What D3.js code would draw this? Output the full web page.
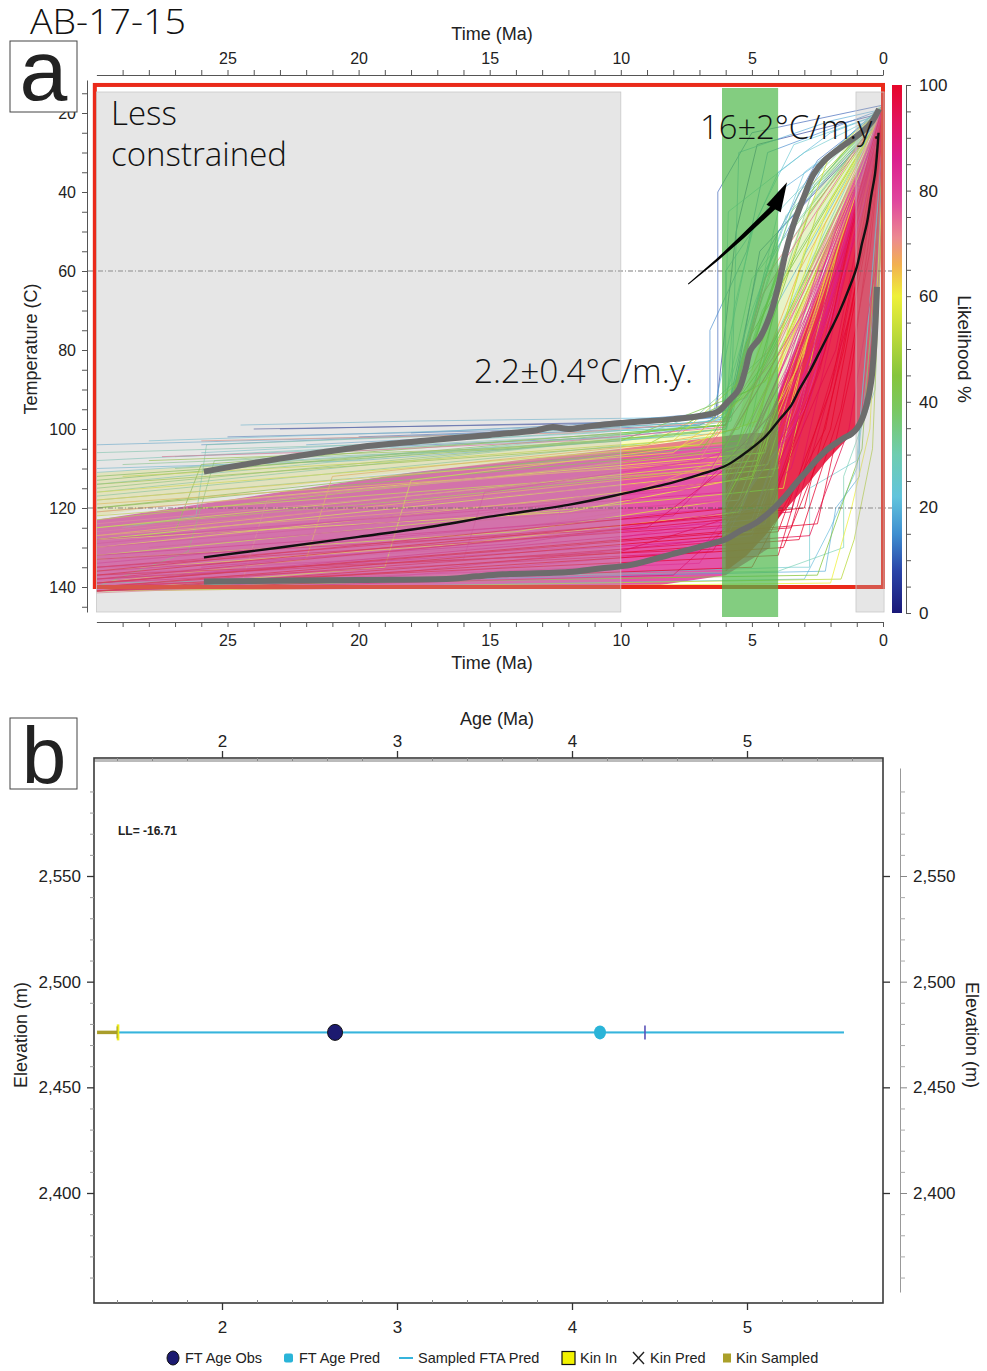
<!DOCTYPE html>
<html><head><meta charset="utf-8">
<script src="https://cdn.jsdelivr.net/npm/d3@7/dist/d3.min.js"></script>
<style>
html,body{margin:0;padding:0;background:#fff;}
svg{display:block;}
text{font-family:"Liberation Sans",Arial,Helvetica,sans-serif;fill:#222;}
.light{font-family:"Open Sans","Lato",sans-serif;font-weight:300;fill:#111;}
</style></head><body>
<svg id="chart" width="987" height="1371"></svg>
<script>
// ================= DATA =================
// Panel a : time-temperature history
const timeTicks = [25, 20, 15, 10, 5, 0];
const tempTicks = [20, 40, 60, 80, 100, 120, 140];
const likeTicks = [0, 20, 40, 60, 80, 100];
const refTemps = [60, 120];
const lessConstrainedWindow = [30, 10];
const recentWindow = [1.03, 0];
const constraintWindow = [6.14, 4.0];

// likelihood colour bar (likelihood %, colour)
const likeStops  = [0, 8, 15, 22, 30, 38, 45, 52, 60, 66, 71, 78, 86, 93, 100];
const likeColors = ["#1a1878","#2a45a8","#3f8fd0","#62c4dc","#6fcdb0","#79c866","#86c53c","#b8d83a","#eef03a","#f2b050","#ec8a90","#e0489e","#dc1f8e","#e2155e","#e6062a"];

// envelopes [time Ma, temperature C]
const upperEnvelope = [[25.9,110.8],[23,107.5],[20,104.6],[17.5,103],[15,101.5],[13.2,100.3],[12.6,99.5],[12,100],[11.3,99.4],[10,98.5],[8,97.5],[7,96.7],[6.3,95.6],[5.9,93],[5.5,90],[5.25,85],[5.05,80],[4.7,77],[4.3,71],[4.0,64],[3.7,55],[3.35,47],[3.0,41],[2.65,35.5],[2.2,31.8],[1.5,28.2],[0.8,24.8],[0.4,22],[0.15,19]];
const meanPath = [[25.9,132.5],[23,130],[20,127.3],[17,124.5],[15,122.2],[12,119.2],[10,116.5],[8,113.5],[6.97,111.5],[6,109.3],[5.45,107],[4.5,102],[3.96,97.7],[3.5,94],[3.2,90.1],[2.8,85.5],[2.44,80.8],[2.0,75],[1.68,70.6],[1.3,64.5],[1.0,59],[0.8,53],[0.61,47.8],[0.45,41],[0.3,35.2],[0.17,25]];
const lowerEnvelope = [[25.9,138.6],[20,138.2],[16.5,137.9],[15.5,137.3],[14.5,136.8],[12,136.2],[10.8,135.3],[9.6,134.4],[8,131.6],[6.97,129.8],[6,127.9],[5.45,125.8],[4.9,124],[4.4,121.5],[4,119],[3.66,116.5],[3.3,113.6],[2.9,110.6],[2.5,107.6],[2.13,105.2],[1.8,103.6],[1.52,102.4],[1.2,101.2],[0.99,99.8],[0.8,97.5],[0.61,93.5],[0.45,88],[0.38,83.3],[0.3,75],[0.23,64]];

// dense path clouds (polygons) and their likelihood
const cloudLeft    = [[30,123],[26,119],[22,115],[18,111],[14,108],[10,105],[7,102.5],[5,101],[4.3,101],[4.3,130],[6,137],[9,140],[30,141]];
const cloudUpper   = [[30,111],[20,107],[10,102],[6,99.5],[6,104],[10,106],[20,112],[30,122]];
const cloudFan     = [[6,110],[5,104],[4.5,100],[3.8,88],[3,74],[2.3,62],[1.7,52],[1.2,42],[0.7,32],[0.35,24],[0.1,19],[0,18],[0,45],[0.25,80],[0.6,94],[1,100],[1.5,103.5],[2.2,108.5],[3,115],[3.8,121],[4.5,127],[5.2,132],[6,136]];
const cloudFanTop  = [[5.6,99],[5.2,90],[4.8,80],[4.3,70],[3.8,60],[3.3,51],[2.7,42],[2.1,35],[1.5,29],[0.9,24],[0.4,20],[0.1,18],[0.35,24],[0.7,32],[1.2,42],[1.7,52],[2.3,62],[3,74],[3.8,88],[4.5,100]];
const cloudLikelihood = [84, 60, 99, 50];

// individual t-T paths : likelihood L, vertices [time Ma, temperature C]
const tTPaths = [
{L:82,p:[[30,140],[7,134],[3,95],[0.6,40],[0,20]]},
{L:86,p:[[30,138],[6,128],[2.5,80],[0.8,35],[0,18]]},
{L:78,p:[[30,136],[5,126],[2,70],[0.5,30],[0,22]]},
{L:90,p:[[30,141],[8,137],[3.5,110],[1,50],[0,25]]},
{L:84,p:[[30,134],[6,120],[2.8,75],[0,19]]},
{L:76,p:[[30,131],[5.5,118],[2.2,60],[0,21]]},
{L:88,p:[[30,139],[4.5,124],[1.5,55],[0,18]]},
{L:80,p:[[30,129],[7,115],[3,70],[0,23]]},
{L:74,p:[[30,126],[6,112],[3.2,72],[0,20]]},
{L:92,p:[[30,133],[9,125],[4,100],[1.5,55],[0,24]]},
{L:96,p:[[30,137],[5,130],[1.8,80],[0,20]]},
{L:98,p:[[30,140],[4,132],[1.2,70],[0,22]]},
{L:72,p:[[30,124],[6.5,110],[3,65],[0,18]]},
{L:70,p:[[30,121],[7,108],[3.5,70],[0,21]]},
{L:94,p:[[30,135],[3.5,121],[1.4,60],[0,19]]},
{L:99,p:[[30,141],[5,135],[2.2,100],[0.6,50],[0,26]]},
{L:87,p:[[30,132],[8,122],[4.2,96],[1.8,50],[0,22]]},
{L:83,p:[[30,128],[6,116],[2.5,65],[0,20]]},
{L:91,p:[[30,139],[6.5,131],[3.2,95],[1.2,50],[0,21]]},
{L:68,p:[[30,127],[10,117],[5,105],[2.5,60],[0,24]]},
{L:79,p:[[28,130],[6,118],[2,55],[0,18]]},
{L:85,p:[[26,135],[5,123],[2.6,78],[0,20]]},
{L:81,p:[[30,137],[12,130],[5.5,122],[2.4,72],[0,19]]},
{L:77,p:[[30,133],[15,126],[6,117],[3,75],[0,22]]},
{L:89,p:[[30,140],[18,136],[5,127],[2,75],[0,20]]},
{L:83,p:[[30,141],[20,138],[7,131],[3.4,100],[1,45],[0,20]]},
{L:86,p:[[30,136],[14,129],[4.8,120],[1.9,65],[0,21]]},
{L:80,p:[[30,130],[16,122],[6,113],[3.6,85],[0,20]]},
{L:75,p:[[29,125],[17,117],[7,108],[4.2,82],[0,22]]},
{L:93,p:[[30,138],[10,131],[4.2,119],[1.6,60],[0,19]]},
{L:62,p:[[30,118],[8,106],[4,85],[0,23]]},
{L:58,p:[[30,116],[7,104],[3.8,80],[0,22]]},
{L:55,p:[[30,122],[6,110],[3,70],[0,20]]},
{L:48,p:[[30,114],[9,104],[4.5,88],[0,24]]},
{L:42,p:[[30,112],[10,103],[5,90],[0,25]]},
{L:64,p:[[30,119],[5.5,108],[3.5,75],[0,19]]},
{L:35,p:[[27,110],[8,102],[4.3,80],[0,22]]},
{L:28,p:[[30,108],[9,101],[5.2,92],[1.5,40],[0,18]]},
{L:60,p:[[30,128],[12,121],[5,112],[2.7,70],[0,21]]},
{L:57,p:[[30,133],[14,126],[6,118],[3.3,85],[0,20]]},
{L:50,p:[[30,125],[18,118],[6.5,110],[3.9,80],[0,22]]},
{L:45,p:[[30,120],[20,114],[7,106],[4.6,84],[0,21]]},
{L:63,p:[[30,136],[16,129],[5.5,121],[2.9,78],[0,20]]},
{L:38,p:[[30,140],[26.5,131],[25.5,108],[12,102],[6,99],[4.6,70],[0,20]]},
{L:66,p:[[30,139],[22,133],[21,112],[9,104],[5.5,100],[3.2,60],[0,21]]},
{L:72,p:[[30,141.5],[24.5,140],[23.5,118],[12,110],[5,104],[3,70],[0,19]]},
{L:30,p:[[29,125],[26.2,122],[25.8,104],[14,101],[6.2,98],[5,62],[0,20]]},
{L:58,p:[[30,141],[19,135],[18,113],[8,105],[4.8,98],[3,55],[0,20]]},
{L:80,p:[[30,135],[16,133],[15.2,116],[7,108],[4.5,102],[2.4,58],[0,20]]},
{L:45,p:[[30,128],[27,126],[26,109],[16,104],[6,99],[5.2,78],[0,20]]},
{L:75,p:[[30,141],[13,136],[12.2,118],[6,110],[3.8,92],[1.6,45],[0,19]]},
{L:74,p:[[27.5,107],[20,105.5],[12,103],[6,99.5],[4.6,66],[0,19]]},
{L:15,p:[[26,104],[15,101],[6,97],[4.5,60],[2,30],[0,18]]},
{L:22,p:[[28,103],[10,99],[6.2,96],[5,70],[3,35],[0,20]]},
{L:30,p:[[30,106],[20,104],[6,99],[5.5,85],[4,50],[0,20]]},
{L:12,p:[[25,102],[12,100],[6,98],[4.8,60],[2.5,32],[0,19]]},
{L:8,p:[[23,100],[8,98],[5.8,95],[4.7,55],[0,22]]},
{L:35,p:[[29,109],[14,105],[5.8,98],[5,75],[3.5,45],[0,21]]},
{L:26,p:[[30,111],[6,101],[5.2,80],[4,45],[1,24],[0,18]]},
{L:18,p:[[22,104],[7,99],[6,96],[6,60],[4,40],[0,21]]},
{L:25,p:[[27,107],[9,102],[6.1,97],[5.9,45],[3,30],[0,20]]},
{L:20,p:[[24.5,99],[18,98],[6.5,97],[5,50],[4,35],[2,25],[0,20]]},
{L:20,p:[[30,110],[20,108],[10,103],[6,100],[5,80],[0,20]]},
{L:70,p:[[26,103],[12,101],[6,98],[4.5,62],[0,19]]},
{L:48,p:[[28,108],[15,105],[7,101],[5.5,90],[3,40],[0,20]]},
{L:12,p:[[21,105],[10,102],[6,99],[4,50],[0,21]]},
{L:55,p:[[29,112],[18,108],[8,103],[5,85],[2,30],[0,19]]},
{L:10,p:[[20,102],[7,99],[6.3,97],[6.3,40],[5,25],[0,18]]},
{L:18,p:[[30,104],[8,100],[5.8,97],[5.5,30],[2,22],[0,19]]},
{L:5,p:[[24,100],[10,98.5],[6.4,97],[5.6,50],[4.8,28],[0,20]]},
{L:14,p:[[18,101],[12,99],[6.6,96],[6.6,75],[5.2,55],[4.4,30],[0,19]]},
{L:24,p:[[26,106],[11,101],[6,97.5],[5.7,70],[4.9,48],[3.4,28],[0,20]]},
{L:38,p:[[30,115],[6,100],[4.8,75],[3.5,50],[0,20]]},
{L:33,p:[[30,117],[6.5,102],[5,80],[3.8,55],[0,19]]},
{L:40,p:[[30,113],[6,99],[4.5,70],[3,42],[0,18]]},
{L:45,p:[[30,120],[5.5,103],[4.2,72],[2.8,45],[0,21]]},
{L:52,p:[[30,123],[5,105],[4,78],[2.5,45],[0,20]]},
{L:57,p:[[30,125],[4.8,108],[3.8,80],[2.2,48],[0,19]]},
{L:36,p:[[30,118],[5.2,104],[4.1,68],[2.6,38],[0,20]]},
{L:60,p:[[30,121],[4.5,106],[3.5,70],[2,42],[0,20]]},
{L:32,p:[[30,116],[6.2,100],[5.4,85],[4.4,62],[3.2,40],[0,19]]},
{L:29,p:[[30,114],[6.1,99],[5.6,90],[4.9,70],[3.7,46],[0,20]]},
{L:62,p:[[30,130],[4.2,112],[3,80],[1.5,45],[0,20]]},
{L:59,p:[[30,128],[4,110],[2.8,75],[1.2,40],[0,18]]},
{L:56,p:[[30,132],[3.8,115],[2.6,78],[1,35],[0,21]]},
{L:65,p:[[30,127],[4.4,109],[3.2,82],[1.6,50],[0,22]]},
{L:100,p:[[30,140],[4,126],[2,90],[0.8,50],[0,20]]},
{L:97,p:[[30,139],[3.5,125],[1.8,85],[0.6,45],[0,19]]},
{L:99,p:[[30,141],[3.2,128],[1.6,95],[0.5,55],[0,22]]},
{L:96,p:[[30,138],[4.5,122],[2.4,85],[1,45],[0,21]]},
{L:100,p:[[30,137],[3,120],[1.5,80],[0.4,40],[0,20]]},
{L:95,p:[[30,140],[2.8,127],[1.3,100],[0.3,60],[0,24]]},
{L:98,p:[[30,136],[4.2,119],[2.2,80],[0.9,40],[0,18]]},
{L:100,p:[[30,141],[3.8,130],[2,100],[0.7,55],[0,21]]},
{L:94,p:[[30,135],[5,124],[2.6,88],[1.1,45],[0,20]]},
{L:99,p:[[30,139],[2.5,124],[1.2,85],[0.3,40],[0,19]]},
{L:20,p:[[30,141],[3,138],[2,125],[1,110],[0.2,60],[0,25]]},
{L:45,p:[[30,140],[2.5,137],[1.5,118],[0.8,105],[0,30]]},
{L:60,p:[[30,141],[2,139],[1.2,120],[0.5,100],[0,35]]},
{L:25,p:[[28,140],[3.5,135],[2.8,135],[2.8,115],[1,108],[0,28]]},
{L:30,p:[[30,139],[4,136],[1.5,130],[1.5,112],[0.3,90],[0,30]]},
{L:18,p:[[30,140],[2.2,136],[1.8,120],[0.9,112],[0.9,100],[0,26]]},
{L:52,p:[[30,141],[1.6,138],[1.1,128],[0.4,105],[0,40]]}
];

// annotation arrow [time Ma, temperature C] tail -> tip
const arrowPath = [[7.43,63.3],[6.33,57.2],[5.34,51.2],[4.12,43.5],[3.66,37.5]];

// Panel b : age-elevation
const ageTicks = [2, 3, 4, 5];
const elevTicks = [2400, 2450, 2500, 2550];
const sampleElevation = 2476;
const ftAgeObs = 2.646;
const ftAgePred = 4.16;
const sampledFTARange = [1.406, 5.554];
const kinSampledRange = [1.286, 1.406];
const kinInAge = 1.406;
const kinPredAge = 4.417;
const logLikelihood = "-16.71";
const legendItems = ["FT Age Obs", "FT Age Pred", "Sampled FTA Pred", "Kin In", "Kin Pred", "Kin Sampled"];

// ================= DRAWING =================
const svg = d3.select("#chart");
svg.append("rect").attr("width", 987).attr("height", 1371).attr("fill", "#fff");

const xA = d3.scaleLinear().domain([30, 0]).range([96.4, 883]);
const yA = d3.scaleLinear().domain([20, 140]).range([113, 587]);
const cy = d3.scaleLinear().domain([0, 100]).range([613, 85]);
const cScale = d3.scaleLinear().domain(likeStops).range(likeColors);
const lineA = d3.line().x(d => xA(d[0])).y(d => yA(d[1]));

const gA = svg.append("g");

// clouds
const areaOpacity = [0.8, 0.3, 0.85, 0.28];
[cloudLeft, cloudUpper, cloudFan, cloudFanTop].forEach((pts, i) => {
  gA.append("path").attr("d", lineA(pts) + "Z").attr("fill", cScale(cloudLikelihood[i])).attr("opacity", areaOpacity[i]);
});

// paths, best on top
tTPaths.slice().sort((a, b) => a.L - b.L).forEach(d => {
  gA.append("path").attr("d", lineA(d.p)).attr("fill", "none")
    .attr("stroke", cScale(d.L)).attr("stroke-width", 0.9).attr("opacity", d.L < 40 ? 0.7 : 0.85);
});

// reference dash-dot lines
refTemps.forEach(T => {
  gA.append("line").attr("x1", 88).attr("x2", 893).attr("y1", yA(T)).attr("y2", yA(T))
    .attr("stroke", "#444").attr("stroke-width", 0.7).attr("stroke-dasharray", "5,2,1,2");
});

// red frame
gA.append("rect").attr("x", xA(30.06)).attr("y", yA(12.9))
  .attr("width", xA(0) - xA(30.06)).attr("height", yA(140) - yA(12.9))
  .attr("fill", "none").attr("stroke", "#ea2a1a").attr("stroke-width", 4);

// grey "less constrained" overlays
const yTopG = yA.invert(92), yBotG = yA.invert(612);
[lessConstrainedWindow, [recentWindow[0], -0.04]].forEach(w => {
  gA.append("rect").attr("x", xA(w[0])).attr("y", yA(yTopG))
    .attr("width", xA(w[1]) - xA(w[0])).attr("height", yA(yBotG) - yA(yTopG))
    .attr("fill", "#b0b0b0").attr("fill-opacity", 0.32).attr("stroke", "#c8c8c8").attr("stroke-width", 0.8);
});

// green constraint box
gA.append("rect").attr("x", xA(constraintWindow[0])).attr("y", 88)
  .attr("width", xA(constraintWindow[1]) - xA(constraintWindow[0])).attr("height", 617 - 88)
  .attr("fill", "#4fb84a").attr("opacity", 0.7);

// envelopes
const smooth = d3.line().x(d => xA(d[0])).y(d => yA(d[1])).curve(d3.curveCatmullRom.alpha(0.5));
[upperEnvelope, lowerEnvelope].forEach(e => {
  gA.append("path").attr("d", smooth(e)).attr("fill", "none").attr("stroke", "#6c6c6c").attr("stroke-width", 6);
});
gA.append("path").attr("d", smooth(meanPath)).attr("fill", "none").attr("stroke", "#111").attr("stroke-width", 2.4);

// arrow (tapered)
(function () {
  const px = arrowPath.map(d => [xA(d[0]), yA(d[1])]);
  const tip = px[px.length - 1];
  const shaft = px.slice(0, -1);
  const n = shaft.length;
  const L = [], R = [];
  shaft.forEach((p, i) => {
    const a = shaft[Math.max(0, i - 1)], b = shaft[Math.min(n - 1, i + 1)];
    let dx = b[0] - a[0], dy = b[1] - a[1];
    const len = Math.hypot(dx, dy); dx /= len; dy /= len;
    const w = 0.5 + 2.2 * i / (n - 1);
    L.push([p[0] - dy * w, p[1] + dx * w]);
    R.push([p[0] + dy * w, p[1] - dx * w]);
  });
  gA.append("path").attr("d", d3.line()(L.concat(R.reverse())) + "Z").attr("fill", "#000");
  const B = shaft[n - 1];
  let dx = tip[0] - B[0], dy = tip[1] - B[1];
  const len = Math.hypot(dx, dy); dx /= len; dy /= len;
  const hw = 8, back = 3;
  const bb = [B[0] - dx * back, B[1] - dy * back];
  gA.append("path").attr("d", d3.line()([tip, [bb[0] - dy * hw, bb[1] + dx * hw], [bb[0] + dy * hw, bb[1] - dx * hw]]) + "Z").attr("fill", "#000");
})();

// annotations
gA.append("text").attr("class", "light").attr("x", 111).attr("y", 125).attr("font-size", 33).text("Less");
gA.append("text").attr("class", "light").attr("x", 111).attr("y", 166).attr("font-size", 33).text("constrained");
gA.append("text").attr("class", "light").attr("x", 700).attr("y", 139).attr("font-size", 33).attr("textLength", 180).attr("lengthAdjust", "spacingAndGlyphs").text("16±2°C/m.y.");
gA.append("text").attr("class", "light").attr("x", 474).attr("y", 383).attr("font-size", 33).attr("textLength", 219).attr("lengthAdjust", "spacingAndGlyphs").text("2.2±0.4°C/m.y.");

// ---- axes panel a ----
function styleAxis(g, fs) {
  g.selectAll(".domain").attr("stroke", "#555").attr("stroke-width", 1);
  g.selectAll(".tick line").attr("stroke", "#555");
  g.selectAll(".tick text").attr("font-size", fs).attr("fill", "#222").attr("font-family", "Liberation Sans, Arial, sans-serif");
}
const minorTime = d3.range(1, 30).filter(v => v % 5 !== 0);
[[75, d3.axisTop], [622, d3.axisBottom]].forEach(([yy, ax]) => {
  const g = svg.append("g").attr("transform", `translate(0,${yy})`)
    .call(ax(xA).tickValues(timeTicks).tickSize(5).tickSizeOuter(0).tickPadding(yy < 100 ? 6 : 8));
  styleAxis(g, 16);
  const gm = svg.append("g").attr("transform", `translate(0,${yy})`)
    .call(ax(xA).tickValues(minorTime).tickSize(5).tickFormat(""));
  gm.select(".domain").remove(); styleAxis(gm, 16);
});
const yAext = yA.copy().domain([yA.invert(80), yA.invert(612)]).range([80, 612]);
{
  const g = svg.append("g").attr("transform", "translate(87,0)")
    .call(d3.axisLeft(yAext).tickValues(tempTicks).tickSize(5).tickSizeOuter(0).tickPadding(6));
  styleAxis(g, 16);
  const gm = svg.append("g").attr("transform", "translate(87,0)")
    .call(d3.axisLeft(yAext).tickValues(d3.range(15, 150, 5).filter(v => v % 20 !== 0)).tickSize(5).tickFormat(""));
  gm.select(".domain").remove(); styleAxis(gm, 16);
}
svg.append("text").attr("x", 492).attr("y", 40).attr("text-anchor", "middle").attr("font-size", 18).text("Time (Ma)");
svg.append("text").attr("x", 492).attr("y", 669).attr("text-anchor", "middle").attr("font-size", 18).text("Time (Ma)");
svg.append("text").attr("transform", "translate(37,349) rotate(-90)").attr("text-anchor", "middle").attr("font-size", 18).text("Temperature (C)");

// colour bar
const defs = svg.append("defs");
const grad = defs.append("linearGradient").attr("id", "lk").attr("x1", 0).attr("y1", 1).attr("x2", 0).attr("y2", 0);
likeStops.forEach((s, i) => grad.append("stop").attr("offset", s / 100).attr("stop-color", likeColors[i]));
svg.append("rect").attr("x", 892).attr("y", cy(100)).attr("width", 10).attr("height", cy(0) - cy(100)).attr("fill", "url(#lk)");
{
  const g = svg.append("g").attr("transform", "translate(906,0)")
    .call(d3.axisRight(cy).tickValues(likeTicks).tickSize(5).tickSizeOuter(0).tickPadding(8));
  styleAxis(g, 17);
  const gm = svg.append("g").attr("transform", "translate(906,0)")
    .call(d3.axisRight(cy).tickValues(d3.range(5, 100, 5).filter(v => v % 20 !== 0)).tickSize(5).tickFormat(""));
  gm.select(".domain").remove(); styleAxis(gm, 17);
}
svg.append("text").attr("transform", "translate(958,349) rotate(90)").attr("text-anchor", "middle").attr("font-size", 19).text("Likelihood %");

// titles / panel labels
svg.append("text").attr("class", "light").attr("x", 30).attr("y", 34).attr("font-size", 34).attr("textLength", 156).attr("lengthAdjust", "spacingAndGlyphs").text("AB-17-15");
svg.append("rect").attr("x", 10).attr("y", 41).attr("width", 67).attr("height", 71).attr("fill", "#fff").attr("stroke", "#444").attr("stroke-width", 1);
svg.append("text").attr("x", 43.5).attr("y", 100).attr("text-anchor", "middle").attr("font-size", 86).attr("font-family", "Liberation Sans, Arial, sans-serif").attr("fill", "#000").text("a");

// ================= Panel b =================
const xB = d3.scaleLinear().domain([2, 5]).range([222, 747]);
const yB = d3.scaleLinear().domain([2400, 2550]).range([1193, 876]);
const xBext = xB.copy().domain([xB.invert(94), xB.invert(883)]).range([94, 883]);
const yBext = yB.copy().domain([yB.invert(1303), yB.invert(758)]).range([1303, 758]);
const gB = svg.append("g");

gB.append("line").attr("x1", 94).attr("x2", 883).attr("y1", 760.5).attr("y2", 760.5).attr("stroke", "#bbb").attr("stroke-width", 3);
gB.append("rect").attr("x", 94).attr("y", 758).attr("width", 883 - 94).attr("height", 1303 - 758)
  .attr("fill", "none").attr("stroke", "#3a3a3a").attr("stroke-width", 1.6);

const minorAge = d3.range(1.4, 5.7, 0.2).filter(v => Math.abs(v - Math.round(v)) > 0.05);
const minorElev = d3.range(2350, 2610, 10).filter(v => v % 50 !== 0);
// top & bottom
[[758, d3.axisTop, -1], [1303, d3.axisBottom, 1]].forEach(([yy, ax, s]) => {
  const g = gB.append("g").attr("transform", `translate(0,${yy})`)
    .call(ax(xBext).tickValues(ageTicks).tickSize(7).tickSizeOuter(0).tickPadding(s < 0 ? 4 : 11).tickFormat(d3.format("d")));
  g.select(".domain").remove(); styleAxis(g, 17);
  g.selectAll(".tick line").attr("stroke", "#333").attr("stroke-width", 1.3);
  const gm = gB.append("g").attr("transform", `translate(0,${yy})`)
    .call(ax(xBext).tickValues(minorAge).tickSize(-3).tickFormat(""));
  gm.select(".domain").remove(); styleAxis(gm, 17);
  gm.selectAll(".tick line").attr("stroke", "#888");
});
// left
{
  const g = gB.append("g").attr("transform", "translate(94,0)")
    .call(d3.axisLeft(yBext).tickValues(elevTicks).tickSize(7).tickSizeOuter(0).tickPadding(6).tickFormat(d3.format(",")));
  g.select(".domain").remove(); styleAxis(g, 17);
  g.selectAll(".tick line").attr("stroke", "#333").attr("stroke-width", 1.3);
  const gm = gB.append("g").attr("transform", "translate(94,0)")
    .call(d3.axisLeft(yBext).tickValues(minorElev).tickSize(4).tickFormat(""));
  gm.select(".domain").remove(); styleAxis(gm, 17);
  gm.selectAll(".tick line").attr("stroke", "#999");
}
// right: box ticks + separate axis
{
  const g = gB.append("g").attr("transform", "translate(883,0)")
    .call(d3.axisRight(yBext).tickValues(elevTicks).tickSize(7).tickFormat(""));
  g.select(".domain").remove(); styleAxis(g, 17);
  g.selectAll(".tick line").attr("stroke", "#333").attr("stroke-width", 1.3);
  const yR = yB.copy().domain([yB.invert(1292), yB.invert(768)]).range([1292, 768]);
  const g2 = gB.append("g").attr("transform", "translate(900,0)")
    .call(d3.axisRight(yR).tickValues(elevTicks).tickSize(7).tickSizeOuter(0).tickPadding(6).tickFormat(d3.format(",")));
  styleAxis(g2, 17);
  g2.select(".domain").attr("stroke", "#999");
  g2.selectAll(".tick line").attr("stroke", "#888");
  const gm = gB.append("g").attr("transform", "translate(900,0)")
    .call(d3.axisRight(yR).tickValues(minorElev.filter(v => v > 2355 && v < 2600)).tickSize(5).tickFormat(""));
  gm.select(".domain").remove(); styleAxis(gm, 17);
  gm.selectAll(".tick line").attr("stroke", "#aaa");
}
svg.append("text").attr("x", 497).attr("y", 725).attr("text-anchor", "middle").attr("font-size", 18).text("Age (Ma)");
svg.append("text").attr("transform", "translate(27,1035) rotate(-90)").attr("text-anchor", "middle").attr("font-size", 18).text("Elevation (m)");
svg.append("text").attr("transform", "translate(966,1035) rotate(90)").attr("text-anchor", "middle").attr("font-size", 18).text("Elevation (m)");

// data marks
const ey = yB(sampleElevation);
gB.append("line").attr("x1", xB(kinSampledRange[0])).attr("x2", xB(kinSampledRange[1])).attr("y1", ey).attr("y2", ey)
  .attr("stroke", "#a99d2a").attr("stroke-width", 3.5);
gB.append("line").attr("x1", xB(sampledFTARange[0])).attr("x2", xB(sampledFTARange[1])).attr("y1", ey).attr("y2", ey)
  .attr("stroke", "#9fdcef").attr("stroke-width", 3);
gB.append("line").attr("x1", xB(sampledFTARange[0])).attr("x2", xB(sampledFTARange[1])).attr("y1", ey).attr("y2", ey)
  .attr("stroke", "#36b4dc").attr("stroke-width", 1.4);
gB.append("line").attr("x1", xB(kinInAge)).attr("x2", xB(kinInAge)).attr("y1", ey - 8).attr("y2", ey + 8)
  .attr("stroke", "#ecea1c").attr("stroke-width", 2.6);
gB.append("line").attr("x1", xB(kinInAge) - 1).attr("x2", xB(kinInAge) - 1).attr("y1", ey - 6).attr("y2", ey + 6)
  .attr("stroke", "#8a8420").attr("stroke-width", 0.8);
gB.append("line").attr("x1", xB(kinPredAge)).attr("x2", xB(kinPredAge)).attr("y1", ey - 7).attr("y2", ey + 7)
  .attr("stroke", "#5a52b8").attr("stroke-width", 1.6);
gB.append("ellipse").attr("cx", xB(ftAgeObs)).attr("cy", ey).attr("rx", 7.5).attr("ry", 8)
  .attr("fill", "#1c1a70").attr("stroke", "#111").attr("stroke-width", 1);
gB.append("ellipse").attr("cx", xB(ftAgePred)).attr("cy", ey).attr("rx", 6).attr("ry", 7)
  .attr("fill", "#2ab4d8");
gB.append("text").attr("x", 118).attr("y", 835).attr("font-size", 12).attr("font-weight", "bold").attr("fill", "#111").text("LL= " + logLikelihood);

svg.append("rect").attr("x", 10).attr("y", 718).attr("width", 67).attr("height", 71).attr("fill", "#fff").attr("stroke", "#444").attr("stroke-width", 1);
svg.append("text").attr("x", 44).attr("y", 783).attr("text-anchor", "middle").attr("font-size", 80).attr("font-family", "Liberation Sans, Arial, sans-serif").attr("fill", "#000").text("b");

// legend
const lgY = 1358;
const lgX = [185, 299, 418, 580, 650, 736];
const lg = svg.append("g");
legendItems.forEach((t, i) => lg.append("text").attr("x", lgX[i]).attr("y", lgY + 5).attr("font-size", 14.5).text(t));
lg.append("ellipse").attr("cx", 173).attr("cy", lgY).attr("rx", 6).attr("ry", 7).attr("fill", "#1c1a70").attr("stroke", "#111");
lg.append("rect").attr("x", 284).attr("y", lgY - 4.5).attr("width", 9).attr("height", 9).attr("rx", 2).attr("fill", "#2ab4d8");
lg.append("line").attr("x1", 399).attr("x2", 413).attr("y1", lgY).attr("y2", lgY).attr("stroke", "#36b4dc").attr("stroke-width", 2);
lg.append("rect").attr("x", 562).attr("y", lgY - 6.5).attr("width", 13).attr("height", 13).attr("fill", "#f2f200").attr("stroke", "#111").attr("stroke-width", 1.2);
lg.append("path").attr("d", "M633,1352L644,1364M644,1352L633,1364").attr("stroke", "#222").attr("stroke-width", 1.4);
lg.append("rect").attr("x", 723).attr("y", lgY - 4.5).attr("width", 8).attr("height", 9).attr("fill", "#aaa02a");
</script></body></html>
